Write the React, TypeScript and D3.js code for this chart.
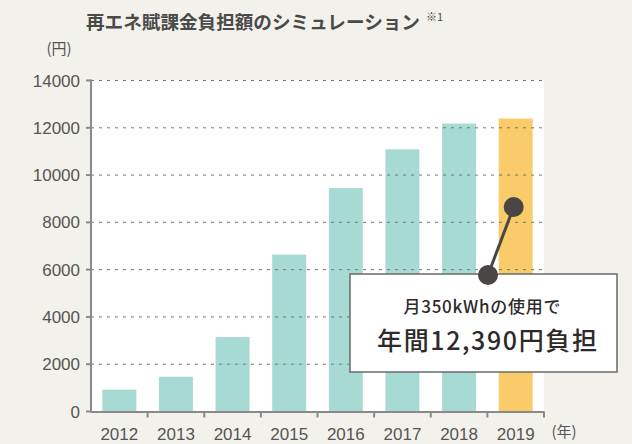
import React from "react";
import * as d3 from "d3";

const years = ["2012", "2013", "2014", "2015", "2016", "2017", "2018", "2019"];
const burden = [924, 1470, 3150, 6636, 9450, 11088, 12180, 12390];
const yTicks = [0, 2000, 4000, 6000, 8000, 10000, 12000, 14000];
const title = "再エネ賦課金負担額のシミュレーション";
const noteMark = "※1";
const calloutLine1 = "月350kWhの使用で";
const calloutLine2 = "年間12,390円負担";
const calloutValue = 8650;

const W = 632;
const H = 444;
const M = { left: 91, right: 544, top: 80.5, bottom: 411.5 };

export default function App() {
  const x = d3.scaleBand<string>().domain(years).range([M.left, M.right]).paddingInner(0.4).paddingOuter(0.2);
  const xb = d3.scaleBand<string>().domain(years).range([M.left, M.right]);
  const y = d3.scaleLinear().domain([0, 14000]).range([M.bottom, M.top]);
  const font = "'Noto Sans CJK JP', 'Noto Sans', sans-serif";
  const numFont = "'Liberation Sans', Arial, sans-serif";
  const last = years[years.length - 1];
  const dotX = xb(last)! + xb.bandwidth() / 2 - 2;
  const dotY = y(calloutValue);
  const box = { x: 350, y: 274, w: 267, h: 98 };
  const dot2X = 488;
  const dot2Y = box.y + 1;

  return (
    <svg width={W} height={H} style={{ position: "absolute", left: 0, top: 0, fontFamily: font }}>
      <rect x={0} y={0} width={W} height={H} fill="#f3f1eb" />
      <text x={86} y={29} fontSize={18.6} fontWeight={700} fill="#4a4a4a">
        {title}
      </text>
      <text x={426} y={21} fontSize={11} fill="#4a4a4a">{noteMark}</text>
      <text x={59} y={54} fontSize={15} fill="#555" textAnchor="middle">(円)</text>
      <rect x={M.left} y={M.top} width={M.right - M.left} height={M.bottom - M.top} fill="#ffffff" />
      {years.map((yr, i) => (
        <rect
          key={yr}
          x={x(yr)}
          y={y(burden[i])}
          width={x.bandwidth()}
          height={y(0) - y(burden[i])}
          fill={i === years.length - 1 ? "#f9cb69" : "#a7dad3"}
        />
      ))}
      {yTicks.filter((t) => t > 0).map((t) => (
        <line
          key={t}
          x1={M.left}
          x2={M.right}
          y1={y(t)}
          y2={y(t)}
          stroke="#777"
          strokeWidth={1}
          strokeDasharray="3 5"
        />
      ))}
      {yTicks.map((t) => (
        <g key={"yt" + t}>
          <line x1={M.left - 5} x2={M.left} y1={y(t)} y2={y(t)} stroke="#8a8a8a" strokeWidth={2} />
          <text x={80} y={y(t) + 6} fontSize={17} fill="#555" textAnchor="end" fontFamily={numFont}>
            {t}
          </text>
        </g>
      ))}
      <line x1={M.left} x2={M.left} y1={M.top - 1} y2={M.bottom + 1} stroke="#8a8a8a" strokeWidth={2} />
      <line x1={M.left} x2={M.right} y1={M.bottom + 0.5} y2={M.bottom + 0.5} stroke="#8a8a8a" strokeWidth={2} />
      {years.map((yr) => (
        <line key={"xt" + yr} x1={xb(yr)! + xb.bandwidth()} x2={xb(yr)! + xb.bandwidth()} y1={M.bottom} y2={M.bottom + 6} stroke="#8a8a8a" strokeWidth={2} />
      ))}
      {years.map((yr) => (
        <text
          key={"xl" + yr}
          x={xb(yr)! + xb.bandwidth() / 2}
          y={440}
          fontSize={17}
          fill="#555"
          textAnchor="middle"
          fontFamily={numFont}
        >
          {yr}
        </text>
      ))}
      <text x={564} y={437} fontSize={15} fill="#555" textAnchor="middle">(年)</text>
      <rect x={box.x} y={box.y} width={box.w} height={box.h} fill="#ffffff" stroke="#6a6a6a" strokeWidth={1.5} />
      <line x1={dotX} y1={dotY} x2={dot2X} y2={dot2Y} stroke="#4a4646" strokeWidth={3} />
      <circle cx={dotX} cy={dotY} r={10} fill="#4a4646" />
      <circle cx={dot2X} cy={dot2Y} r={10} fill="#4a4646" />
      <text x={482} y={313} fontSize={17} fontWeight={500} fill="#2f2a2a" textAnchor="middle" textLength={157} lengthAdjust="spacing">
        {calloutLine1}
      </text>
      <text x={487} y={350} fontSize={25} fontWeight={500} fill="#2f2a2a" textAnchor="middle" textLength={220} lengthAdjust="spacing">
        {calloutLine2}
      </text>
    </svg>
  );
}
